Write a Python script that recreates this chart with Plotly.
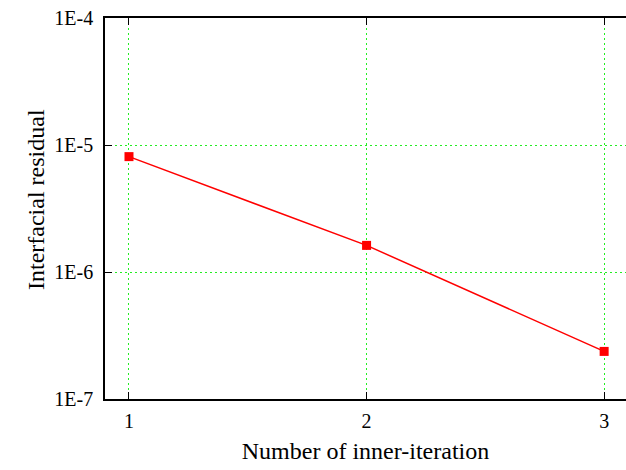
import plotly.graph_objects as go

iterations = [1, 2, 3]
residual = [8.1e-6, 1.62e-6, 2.37e-7]
x_ticks = [1, 2, 3]
y_tickvals = [1e-7, 1e-6, 1e-5, 1e-4]
y_ticktext = ["1E-7", "1E-6", "1E-5", "1E-4"]

fig = go.Figure()
fig.add_trace(go.Scatter(
    x=iterations, y=residual, mode="lines+markers",
    line=dict(color="#ff0000", width=1.5),
    marker=dict(symbol="square", size=9, color="#ff0000"),
    showlegend=False,
))

font = "Liberation Serif, Times New Roman, serif"
grid_color = "#22ee22"
fig.update_layout(
    width=626, height=470,
    margin=dict(l=105, r=0, t=18, b=71),
    paper_bgcolor="white", plot_bgcolor="white",
    font=dict(family=font, size=20, color="black"),
    xaxis=dict(
        range=[0.899, 3.092], tickvals=x_ticks, ticktext=[str(v) for v in x_ticks],
        ticks="inside", ticklen=7, tickcolor="black", tickwidth=1,
        showline=True, linecolor="black", linewidth=1.5, mirror="ticks",
        showgrid=True, gridcolor=grid_color, griddash="2px,3px", gridwidth=1.2,
        zeroline=False, ticklabelstandoff=3,
        title=dict(text="Number of inner-iteration", font=dict(size=24), standoff=11),
    ),
    yaxis=dict(
        type="log", range=[-7, -4], tickvals=y_tickvals, ticktext=y_ticktext,
        ticks="inside", ticklen=7, tickcolor="black", tickwidth=1,
        showline=True, linecolor="black", linewidth=1.5,
        showgrid=True, gridcolor=grid_color, griddash="2px,3px", gridwidth=1.2,
        zeroline=False, ticklabelstandoff=6,
    ),
    annotations=[dict(
        text="Interfacial residual", textangle=-90, showarrow=False,
        xref="paper", yref="paper", x=-105 / 521 + 36 / 521, y=(381 - (200 - 18)) / 381,
        xanchor="center", yanchor="middle", font=dict(size=24),
    )],
)
fig.write_html("out.html")
